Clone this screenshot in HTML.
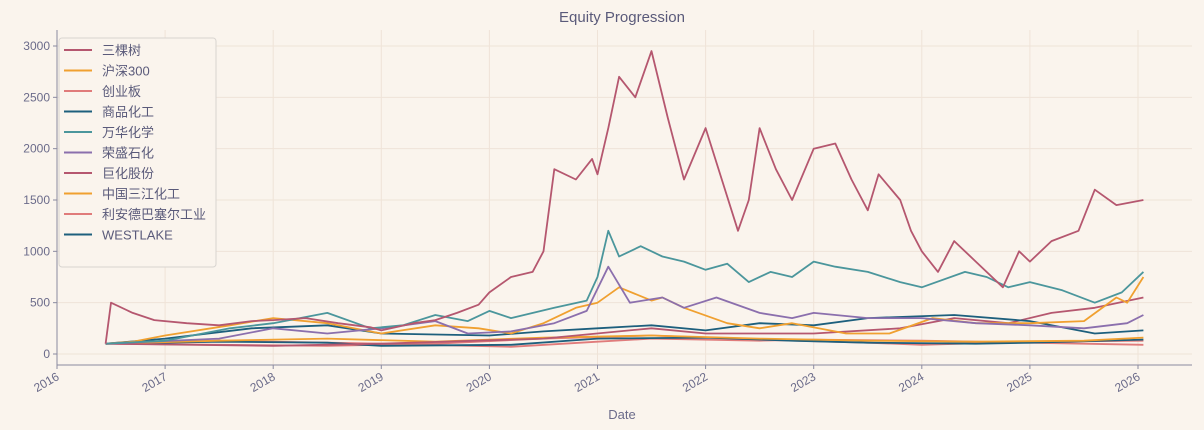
<!DOCTYPE html>
<html><head><meta charset="utf-8"><style>
body{margin:0;background:#faf4ed;}
svg{display:block;font-family:"Liberation Sans","Noto Sans CJK SC",sans-serif;}
</style></head><body>
<svg id="c" width="1204" height="430"></svg>
<script>
const seriesNames=["三棵树","沪深300","创业板","商品化工","万华化学","荣盛石化","巨化股份","中国三江化工","利安德巴塞尔工业","WESTLAKE"];
const seriesColors=["#b5576f","#f0a030","#e07b7b","#1d5f7d","#4b969c","#8b6fad","#b5576f","#f0a030","#e07b7b","#1d5f7d"];
const t0=[2016.45,2016.5,2016.7,2016.9,2017.2,2017.5,2017.8,2018.0,2018.3,2018.6,2018.9,2019.0,2019.3,2019.5,2019.7,2019.9,2020.0,2020.2,2020.4,2020.5,2020.6,2020.8,2020.95,2021.0,2021.1,2021.2,2021.35,2021.5,2021.65,2021.8,2022.0,2022.15,2022.3,2022.4,2022.5,2022.65,2022.8,2023.0,2023.2,2023.35,2023.5,2023.6,2023.8,2023.9,2024.0,2024.15,2024.3,2024.5,2024.75,2024.9,2025.0,2025.2,2025.45,2025.6,2025.8,2026.05];
const v0=[100,500,400,330,300,280,320,330,350,300,260,230,300,330,400,480,600,750,800,1000,1800,1700,1900,1750,2200,2700,2500,2950,2300,1700,2200,1700,1200,1500,2200,1800,1500,2000,2050,1700,1400,1750,1500,1200,1000,800,1100,900,650,1000,900,1100,1200,1600,1450,1500];
const t1=[2016.45,2017.5,2018.5,2019.5,2020.5,2021.5,2022.5,2023.5,2024.5,2025.5,2026.05];
const v1=[100,130,150,120,160,180,150,130,120,130,160];
const t2=[2016.45,2017.5,2018.5,2019.5,2020.5,2021.5,2022.5,2023.5,2024.0,2025.0,2026.05];
const v2=[100,90,80,100,150,180,140,110,90,120,130];
const t3=[2016.45,2017,2017.8,2018.5,2019,2020,2020.5,2021,2021.5,2022,2022.5,2023,2023.5,2024.3,2025,2025.6,2026.05];
const v3=[100,150,250,280,200,180,220,250,280,230,300,280,350,380,320,200,230];
const t4=[2016.45,2017,2017.6,2018.0,2018.5,2018.9,2019.2,2019.5,2019.8,2020.0,2020.2,2020.6,2020.9,2021.0,2021.1,2021.2,2021.4,2021.6,2021.8,2022.0,2022.2,2022.4,2022.6,2022.8,2023.0,2023.2,2023.5,2023.8,2024.0,2024.4,2024.6,2024.8,2025.0,2025.3,2025.6,2025.85,2026.05];
const v4=[100,130,250,300,400,250,280,380,320,420,350,450,520,750,1200,950,1050,950,900,820,880,700,800,750,900,850,800,700,650,800,750,650,700,620,500,600,800];
const t5=[2016.45,2017.5,2018.0,2018.5,2019.0,2019.5,2019.8,2020.2,2020.6,2020.9,2021.1,2021.3,2021.6,2021.8,2022.1,2022.5,2022.8,2023.0,2023.5,2024.0,2024.5,2025.0,2025.5,2025.9,2026.05];
const v5=[100,150,250,200,250,320,200,220,300,420,850,500,550,450,550,400,350,400,350,350,300,280,250,300,380];
const t6=[2016.45,2018,2019,2020.5,2021.5,2022,2023,2023.8,2024.3,2024.8,2025.2,2025.6,2026.05];
const v6=[100,80,100,150,250,200,200,250,350,300,400,450,550];
const t7=[2016.45,2016.7,2017.0,2017.6,2018.0,2018.5,2019.0,2019.5,2019.9,2020.2,2020.5,2020.8,2021.0,2021.2,2021.5,2021.6,2021.8,2022.2,2022.5,2022.8,2023.3,2023.7,2024.1,2024.5,2025.0,2025.5,2025.8,2025.9,2026.05];
const v7=[100,120,180,280,350,300,200,280,250,200,300,450,500,650,520,550,450,300,250,300,200,200,350,300,300,320,550,500,750];
const t8=[2016.45,2017.5,2018.5,2019,2020.2,2021,2021.5,2022.5,2023,2024,2025,2026.05];
const v8=[100,130,110,100,70,120,150,130,140,130,110,90];
const t9=[2016.45,2017.5,2018.5,2019,2020.2,2021,2022,2022.8,2023.5,2024.5,2025,2026.05];
const v9=[100,120,110,80,90,150,160,130,110,100,110,140];
const times=[t0,t1,t2,t3,t4,t5,t6,t7,t8,t9];
const vals=[v0,v1,v2,v3,v4,v5,v6,v7,v8,v9];
const yTicks=[0,500,1000,1500,2000,2500,3000];
const xTicks=[2016,2017,2018,2019,2020,2021,2022,2023,2024,2025,2026];

const svg=document.getElementById('c');
const NS='http://www.w3.org/2000/svg';
const L=57,R=1192,T=30,B=365;
const xs=y=>57+(y-2016)*108.1;
const ys=v=>354-v*0.10267;
function mk(tag,attrs,parent){const e=document.createElementNS(NS,tag);for(const k in attrs)e.setAttribute(k,attrs[k]);(parent||svg).appendChild(e);return e;}
const title=mk('text',{x:622,y:22,'text-anchor':'middle','font-size':15,fill:'#5a5a7a'});
title.textContent='Equity Progression';


yTicks.forEach(v=>{
  const g=mk('line',{x1:L,x2:R,y1:ys(v),y2:ys(v),stroke:'#efe3d8','stroke-width':1});
  
  
  mk('line',{x1:L-4,x2:L,y1:ys(v),y2:ys(v),stroke:'#8a8aa0'});
  const t=mk('text',{x:L-7,y:ys(v)+4,'text-anchor':'end','font-size':12,fill:'#6b6b8a'});
  t.textContent=v;
  
  
});
xTicks.forEach(y=>{
  const x=xs(y);
  const g=mk('line',{x1:x,x2:x,y1:T,y2:B,stroke:'#efe3d8','stroke-width':1});
  
  
  mk('line',{x1:x,x2:x,y1:B,y2:B+4,stroke:'#8a8aa0'});
  const t=mk('text',{x:x+3,y:B+14,'text-anchor':'end','font-size':12,fill:'#6b6b8a',transform:`rotate(-30 ${x+3} ${B+14})`});
  t.textContent=y;
  
  
});
mk('line',{x1:L,x2:L,y1:T,y2:B,stroke:'#8a8aa0'});
mk('line',{x1:L,x2:R,y1:B,y2:B,stroke:'#8a8aa0'});
const xl=mk('text',{x:622,y:419,'text-anchor':'middle','font-size':13,fill:'#6b6b8a'});
xl.textContent='Date';


const order=[8,2,9,1,6,3,7,5,4,0];
order.forEach(i=>{
  const pts=times[i].map((t,j)=>xs(t).toFixed(1)+','+ys(vals[i][j]).toFixed(1)).join(' ');
  const p=mk('polyline',{points:pts,fill:'none',stroke:seriesColors[i],'stroke-width':1.8,'stroke-linejoin':'round'});
  
  
});
const lg=mk('g',{});


mk('rect',{x:59,y:38,width:157,height:229,rx:3,fill:'#faf4ed',stroke:'#d8d4d0'},lg);
seriesNames.forEach((n,i)=>{
  const y=50+i*20.5;
  const ln=mk('line',{x1:64,x2:92,y1:y,y2:y,stroke:seriesColors[i],'stroke-width':2},lg);
  
  
  const t=mk('text',{x:102,y:y+5,'font-size':13,fill:'#5a5a7a'},lg);
  t.textContent=n;
  
  
});
</script>
</body></html>
